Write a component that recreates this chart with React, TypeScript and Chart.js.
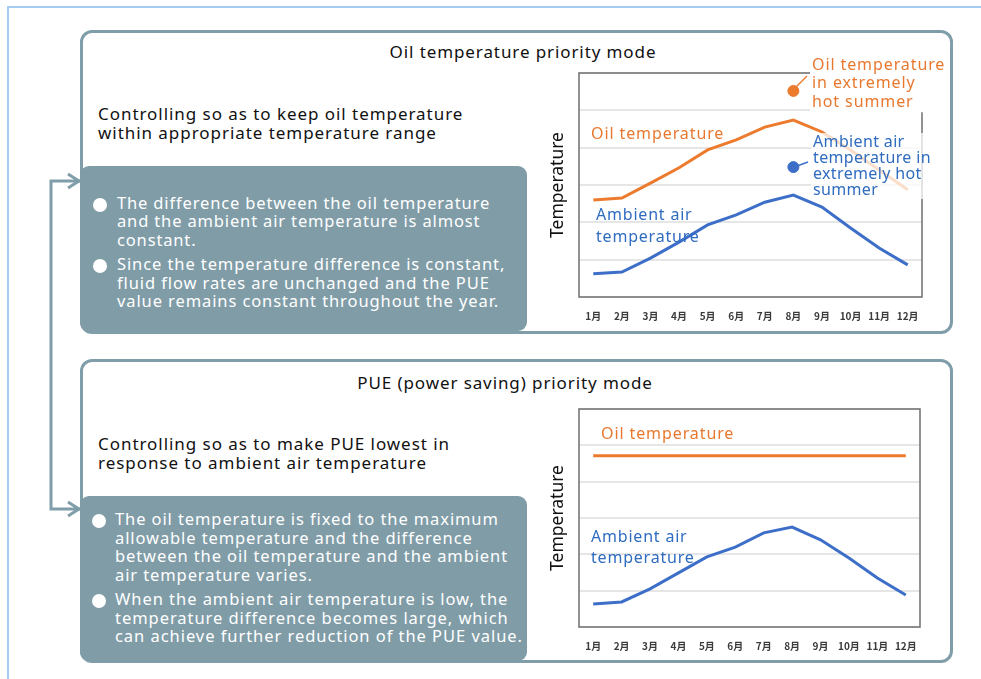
import React, { useEffect, useRef } from 'react';
import { Chart, registerables } from 'chart.js';

Chart.register(...registerables);

// ---------- data ----------
const months = ['1月', '2月', '3月', '4月', '5月', '6月', '7月', '8月', '9月', '10月', '11月', '12月'];

// Oil temperature priority mode
const oilModeOilTemp = [2.6, 2.65, 3.05, 3.46, 3.94, 4.21, 4.55, 4.74, 4.42, 3.94, 3.4, 2.87];
const oilModeAmbient = [0.62, 0.67, 1.04, 1.47, 1.93, 2.2, 2.54, 2.73, 2.41, 1.85, 1.31, 0.86];
const oilModeHotOil = [null, null, null, null, null, null, null, 5.52, null, null, null, null];
const oilModeHotAmbient = [null, null, null, null, null, null, null, 3.48, null, null, null, null];

// PUE (power saving) priority mode
const pueModeOilTemp = [4.71, 4.71, 4.71, 4.71, 4.71, 4.71, 4.71, 4.71, 4.71, 4.71, 4.71, 4.71];
const pueModeAmbient = [0.63, 0.69, 1.05, 1.49, 1.93, 2.2, 2.59, 2.75, 2.4, 1.9, 1.35, 0.88];

const yTicks = [0, 1, 2, 3, 4, 5, 6];

// ---------- style ----------
const FONT = '"Noto Sans", "Noto Sans CJK JP", sans-serif';
const ORANGE = '#ec7b2e';
const BLUE = '#3d6fc8';
const ORANGE_TXT = '#e8782f';
const BLUE_TXT = '#2f6cc0';
const SLATE = '#809ea9';

type Note = {
  lines: string[];
  color: string;
  dx: number;
  dy: number;
  lh: number;
  ls: number;
  bg?: string;
};

type Leader = { color: string; from: [number, number]; to: [number, number] };

function makeAnnotPlugin(notes: Note[], leaders: Leader[]) {
  return {
    id: 'annot',
    beforeDatasetsDraw(chart: any) {
      const { ctx, chartArea } = chart;
      ctx.save();
      ctx.strokeStyle = '#777';
      ctx.lineWidth = 1.6;
      ctx.strokeRect(chartArea.left, chartArea.top, chartArea.right - chartArea.left, chartArea.bottom - chartArea.top);
      ctx.restore();
    },
    afterDatasetsDraw(chart: any) {
      const { ctx, chartArea } = chart;
      ctx.save();
      ctx.font = `16px ${FONT}`;
      ctx.textBaseline = 'middle';
      for (const n of notes) {
        (ctx as any).letterSpacing = `${n.ls}px`;
        const x = chartArea.left + n.dx;
        const y0 = chartArea.top + n.dy;
        if (n.bg) {
          let w = 0;
          for (const l of n.lines) w = Math.max(w, ctx.measureText(l).width);
          ctx.fillStyle = n.bg;
          ctx.fillRect(x - 2, y0 - n.lh / 2 - 1, w + 4, n.lh * n.lines.length + 2);
        }
        ctx.fillStyle = n.color;
        n.lines.forEach((l, i) => ctx.fillText(l, x, y0 + i * n.lh));
      }
      for (const ld of leaders) {
        ctx.strokeStyle = ld.color;
        ctx.lineWidth = 1.5;
        ctx.beginPath();
        ctx.moveTo(chartArea.left + ld.from[0], chartArea.top + ld.from[1]);
        ctx.lineTo(chartArea.left + ld.to[0], chartArea.top + ld.to[1]);
        ctx.stroke();
      }
      ctx.restore();
    },
  };
}

type ChartProps = {
  left: number;
  top: number;
  width: number;
  height: number;
  padRight: number;
  datasets: any[];
  notes: Note[];
  leaders: Leader[];
};

function TempChart(props: ChartProps) {
  const ref = useRef<HTMLCanvasElement | null>(null);
  useEffect(() => {
    if (!ref.current) return;
    const chart = new Chart(ref.current, {
      type: 'line',
      data: { labels: months, datasets: props.datasets },
      options: {
        animation: false,
        responsive: false,
        layout: { padding: { top: 33, right: props.padRight, left: 0, bottom: 0 } },
        plugins: { legend: { display: false }, tooltip: { enabled: false } },
        scales: {
          x: {
            offset: true,
            grid: { display: false, drawTicks: false },
            border: { display: false },
            ticks: {
              padding: 13,
              color: '#3a3a3a',
              font: { size: 10, weight: 'bold', family: '"Noto Sans CJK JP", sans-serif' },
              maxRotation: 0,
              autoSkip: false,
            },
            afterFit: (s: any) => {
              s.height = 33;
            },
          },
          y: {
            min: yTicks[0],
            max: yTicks[yTicks.length - 1],
            afterBuildTicks: (s: any) => {
              s.ticks = yTicks.map((v) => ({ value: v }));
            },
            grid: { color: '#e6e6e6', lineWidth: 2, drawTicks: false },
            border: { display: false },
            ticks: { display: false },
            title: {
              display: true,
              text: 'Temperature',
              color: '#111',
              font: { size: 17.5, family: FONT },
              padding: { top: 8, bottom: 0 },
            },
            afterFit: (s: any) => {
              s.width = 39;
            },
          },
        },
      },
      plugins: [makeAnnotPlugin(props.notes, props.leaders)],
    } as any);
    return () => chart.destroy();
  }, []);
  return (
    <canvas
      ref={ref}
      width={props.width}
      height={props.height}
      style={{ position: 'absolute', left: props.left, top: props.top, width: props.width, height: props.height }}
    />
  );
}

const lineDs = (data: (number | null)[], color: string) => ({
  data,
  borderColor: color,
  backgroundColor: color,
  borderWidth: 3,
  pointRadius: 0,
  tension: 0,
  fill: false,
});

const dotDs = (data: (number | null)[], color: string) => ({
  data,
  showLine: false,
  pointRadius: 5.5,
  pointBackgroundColor: color,
  pointBorderColor: color,
  borderColor: color,
});

const txt = (extra: React.CSSProperties): React.CSSProperties => ({
  position: 'absolute',
  fontFamily: FONT,
  whiteSpace: 'pre',
  margin: 0,
  ...extra,
});

function Bullet({ x, y }: { x: number; y: number }) {
  return (
    <div
      style={{
        position: 'absolute',
        left: x - 7,
        top: y - 7,
        width: 14,
        height: 14,
        borderRadius: 7,
        background: '#fff',
      }}
    />
  );
}

export default function App() {
  return (
    <div
      style={{
        position: 'absolute',
        left: 0,
        top: 0,
        width: 981,
        height: 679,
        background: '#fff',
        overflow: 'hidden',
      }}
    >
      {/* outer light-blue frame */}
      <div
        style={{
          position: 'absolute',
          left: 7,
          top: 6,
          width: 990,
          height: 700,
          borderTop: '2px solid #a6cbf3',
          borderLeft: '2px solid #a6cbf3',
        }}
      />

      {/* connector arrows */}
      <svg width={981} height={679} style={{ position: 'absolute', left: 0, top: 0 }}>
        <polyline points="80,181 51,181 51,509 80,509" fill="none" stroke={SLATE} strokeWidth={3} />
        <polyline points="68,174 79,181 68,188" fill="none" stroke={SLATE} strokeWidth={3} />
        <polyline points="68,502 79,509 68,516" fill="none" stroke={SLATE} strokeWidth={3} />
      </svg>

      {/* ---------- upper panel ---------- */}
      <div
        style={{
          position: 'absolute',
          left: 80,
          top: 30,
          width: 873,
          height: 304,
          border: `3px solid ${SLATE}`,
          borderRadius: 12,
          boxSizing: 'border-box',
        }}
      />
      <div
        style={txt({
          left: 523,
          top: 41,
          transform: 'translateX(-50%)',
          fontSize: 17,
          letterSpacing: '0.9px',
          color: '#111',
          lineHeight: '22px',
        })}
      >
        Oil temperature priority mode
      </div>
      <div style={txt({ left: 98, top: 104, fontSize: 17, letterSpacing: '0.95px', color: '#111', lineHeight: '19px' })}>
        {'Controlling so as to keep oil temperature\nwithin appropriate temperature range'}
      </div>
      <div
        style={{
          position: 'absolute',
          left: 80,
          top: 166,
          width: 447,
          height: 165,
          background: '#7f9ca7',
          borderRadius: 9,
        }}
      />
      <Bullet x={100} y={205} />
      <div
        style={txt({ left: 117, top: 193.5, fontSize: 16.5, letterSpacing: '0.85px', color: '#fff', lineHeight: '18.5px' })}
      >
        {'The difference between the oil temperature\nand the ambient air temperature is almost\nconstant.'}
      </div>
      <Bullet x={100} y={266} />
      <div style={txt({ left: 117, top: 255, fontSize: 16.5, letterSpacing: '0.9px', color: '#fff', lineHeight: '18.5px' })}>
        {'Since the temperature difference is constant,\nfluid flow rates are unchanged and the PUE\nvalue remains constant throughout the year.'}
      </div>

      <TempChart
        left={540}
        top={40}
        width={412}
        height={290}
        padRight={30}
        datasets={[
          lineDs(oilModeOilTemp, ORANGE),
          lineDs(oilModeAmbient, BLUE),
          dotDs(oilModeHotOil, ORANGE),
          dotDs(oilModeHotAmbient, BLUE),
        ]}
        notes={[
          { lines: ['Oil temperature'], color: ORANGE_TXT, dx: 12, dy: 61, lh: 18, ls: 0.9 },
          { lines: ['Ambient air', 'temperature'], color: BLUE_TXT, dx: 17, dy: 142, lh: 22, ls: 0.8 },
          {
            lines: ['Oil temperature', 'in extremely', 'hot summer'],
            color: ORANGE_TXT,
            dx: 233,
            dy: -8,
            lh: 18.5,
            ls: 0.9,
            bg: '#ffffff',
          },
          {
            lines: ['Ambient air', 'temperature in', 'extremely hot', 'summer'],
            color: BLUE_TXT,
            dx: 234,
            dy: 69,
            lh: 16,
            ls: 0.35,
            bg: 'rgba(255,255,255,0.75)',
          },
        ]}
        leaders={[
          { color: ORANGE, from: [217, 14], to: [228, 3] },
          { color: BLUE, from: [218, 93], to: [229, 89] },
        ]}
      />

      {/* ---------- lower panel ---------- */}
      <div
        style={{
          position: 'absolute',
          left: 80,
          top: 359,
          width: 873,
          height: 304,
          border: `3px solid ${SLATE}`,
          borderRadius: 12,
          boxSizing: 'border-box',
        }}
      />
      <div
        style={txt({
          left: 505,
          top: 372,
          transform: 'translateX(-50%)',
          fontSize: 17,
          letterSpacing: '0.9px',
          color: '#111',
          lineHeight: '22px',
        })}
      >
        PUE (power saving) priority mode
      </div>
      <div style={txt({ left: 98, top: 434, fontSize: 17, letterSpacing: '0.95px', color: '#111', lineHeight: '19px' })}>
        {'Controlling so as to make PUE lowest in\nresponse to ambient air temperature'}
      </div>
      <div
        style={{
          position: 'absolute',
          left: 80,
          top: 496,
          width: 447,
          height: 165,
          background: '#7f9ca7',
          borderRadius: 9,
        }}
      />
      <Bullet x={99} y={521} />
      <div style={txt({ left: 115, top: 510, fontSize: 16.5, letterSpacing: '0.9px', color: '#fff', lineHeight: '18.7px' })}>
        {'The oil temperature is fixed to the maximum\nallowable temperature and the difference\nbetween the oil temperature and the ambient\nair temperature varies.'}
      </div>
      <Bullet x={99} y={601} />
      <div style={txt({ left: 115, top: 590, fontSize: 16.5, letterSpacing: '0.95px', color: '#fff', lineHeight: '18.7px' })}>
        {'When the ambient air temperature is low, the\ntemperature difference becomes large, which\ncan achieve further reduction of the PUE value.'}
      </div>

      <TempChart
        left={540}
        top={376}
        width={412}
        height={284}
        padRight={32}
        datasets={[lineDs(pueModeOilTemp, ORANGE), lineDs(pueModeAmbient, BLUE)]}
        notes={[
          { lines: ['Oil temperature'], color: ORANGE_TXT, dx: 22, dy: 25, lh: 18, ls: 0.9 },
          { lines: ['Ambient air', 'temperature'], color: BLUE_TXT, dx: 12, dy: 128, lh: 21, ls: 0.8 },
        ]}
        leaders={[]}
      />
    </div>
  );
}
